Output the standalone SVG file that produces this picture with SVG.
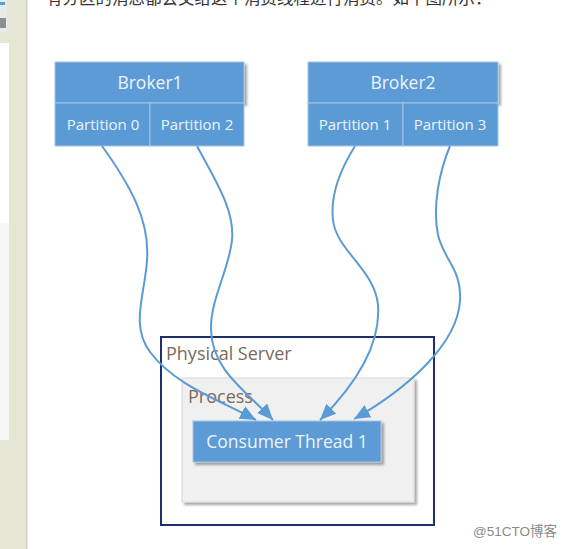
<svg xmlns="http://www.w3.org/2000/svg" width="579" height="549" viewBox="0 0 579 549">
<defs>
<style>
.lbl{font-family:"Open Sans","Noto Sans","DejaVu Sans",sans-serif;fill:#eef4fb;text-anchor:middle}
.cell{fill:#5b9bd5;stroke:#a8c3e2;stroke-width:1}
.conn{fill:none;stroke:#5b9bd5;stroke-width:2}
.ttl{font-family:"Open Sans","Noto Sans","DejaVu Sans",sans-serif;fill:#7a6a5c}
</style>
<filter id="sh" x="-10%" y="-10%" width="130%" height="140%">
<feDropShadow dx="2.5" dy="2.5" stdDeviation="1.2" flood-color="#000" flood-opacity="0.35"/>
</filter>
<marker id="ah" markerUnits="userSpaceOnUse" markerWidth="17" markerHeight="14" refX="16" refY="7" orient="auto">
<path d="M0,0 L16,7 L0,14 z" fill="#5b9bd5"/>
</marker>
</defs>
<rect width="579" height="549" fill="#ffffff"/>
<!-- left sidebar -->
<rect x="0" y="0" width="27" height="549" fill="#e5e6d3"/>
<rect x="26" y="0" width="1.5" height="549" fill="#d2d3c2"/>
<rect x="0" y="43" width="9" height="180" fill="#ffffff"/>
<rect x="0" y="223" width="9" height="217" fill="#f7f7f7"/>
<rect x="0" y="0" width="7" height="32" fill="#e8eaec"/>
<rect x="0" y="2" width="5" height="3" fill="#4aa3df"/>
<rect x="0" y="18" width="6" height="10" fill="#8a9090"/>
<!-- cut-off paragraph text -->
<text x="46" y="4" font-family="'Noto Sans CJK SC',sans-serif" font-size="16.5" fill="#333333">有分区的消息都会交给这个消费线程进行消费。如下图所示：</text>

<g id="broker1">
<rect x="55" y="62" width="189" height="41" class="cell" filter="url(#sh)"/>
<rect x="55" y="103" width="95" height="43" class="cell"/>
<rect x="150" y="103" width="94" height="43" class="cell"/>
<text x="150" y="89" class="lbl" font-size="17.5">Broker1</text>
<text x="103" y="130" class="lbl" font-size="15">Partition 0</text>
<text x="197" y="130" class="lbl" font-size="15">Partition 2</text>
</g>
<g id="broker2">
<rect x="308" y="62" width="190" height="41" class="cell" filter="url(#sh)"/>
<rect x="308" y="103" width="95" height="43" class="cell"/>
<rect x="403" y="103" width="95" height="43" class="cell"/>
<text x="403" y="89" class="lbl" font-size="17.5">Broker2</text>
<text x="355" y="130" class="lbl" font-size="15">Partition 1</text>
<text x="450" y="130" class="lbl" font-size="15">Partition 3</text>
</g>
<g id="physical-server">
<rect x="161" y="337" width="273" height="188" fill="#ffffff" stroke="#1f2f6e" stroke-width="2"/>
<text x="166" y="360" class="ttl" font-size="18">Physical Server</text>
</g>
<g id="process">
<rect x="182" y="378" width="232" height="124" fill="#f0f0f0" stroke="#d8d8d8" stroke-width="1" filter="url(#sh)"/>
<text x="188" y="403" class="ttl" font-size="18">Process</text>
</g>
<g id="consumer-thread-1">
<rect x="193" y="421" width="188" height="41" fill="#5b9bd5" stroke="#a8c3e2" stroke-width="1" filter="url(#sh)"/>
<text x="287" y="448" class="lbl" font-size="17.5">Consumer Thread 1</text>
</g>
<g id="connectors">
<path class="conn" marker-end="url(#ah)" d="M102,146 C130,185 150,220 147,260 C145,295 130,325 150,352 C175,385 215,398 256,420"/>
<path class="conn" marker-end="url(#ah)" d="M197,146 C215,180 235,210 232,240 C229,270 210,300 211,330 C212,370 245,390 273,420"/>
<path class="conn" marker-end="url(#ah)" d="M355,146 C340,170 330,195 333,220 C336,250 375,270 378,305 C381,345 355,385 320,420"/>
<path class="conn" marker-end="url(#ah)" d="M450,146 C440,170 432,205 438,235 C444,260 462,270 460,300 C458,345 405,390 354,419"/>
</g>
<text x="473" y="536" font-family="'Liberation Sans','Noto Sans CJK SC',sans-serif" font-size="13.5" fill="#8a8a8a">@51CTO博客</text>
</svg>
